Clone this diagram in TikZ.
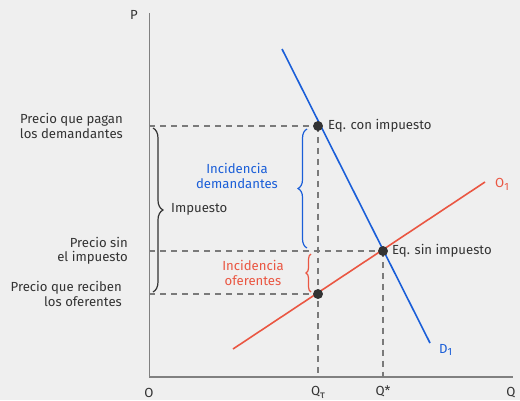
\documentclass[tikz,border=0pt]{standalone}
\usepackage{fontspec}
\setmainfont{Fira Sans}
\usetikzlibrary{decorations.pathreplacing}
\definecolor{bgc}{HTML}{EFEFEF}
\definecolor{txt}{HTML}{333333}
\definecolor{axc}{HTML}{808080}
\definecolor{dashc}{HTML}{7A7A7A}
\definecolor{bluec}{HTML}{1A5ED8}
\definecolor{redc}{HTML}{EA5642}
\newcommand{\lowsub}[1]{\raisebox{-0.4ex}{\fontsize{10.5}{12}\selectfont #1}}
\tikzset{
  axis/.style={draw=axc, line width=1.3pt},
  guide/.style={draw=dashc, line width=1.1pt, dash pattern=on 6pt off 5pt},
  curveD/.style={draw=bluec, line width=1.6pt},
  curveO/.style={draw=redc, line width=1.6pt},
  eqdot/.style={circle, fill=txt, inner sep=0pt, minimum size=10pt},
  lbl/.style={text=txt, font=\fontsize{13.2}{14.5}\selectfont, inner sep=0pt},
  brc/.style={decorate, decoration={brace, amplitude=#1}, line width=1.2pt},
}
\begin{document}
\begin{tikzpicture}[x=1bp, y=-1bp]
\useasboundingbox[fill=bgc] (0,0) rectangle (520,400);
% axes
\coordinate (O) at (149.5,377);
\coordinate (Ptop) at (149.5,13);
\coordinate (Qend) at (513,377);
\draw[axis] (Ptop) -- (O) -- (Qend);
\node[lbl] (P) at (134,15) {P};
\node[lbl] (Olab) at (149,393) {O};
\node[lbl] (Q) at (511,393) {Q};
% equilibrium points
\coordinate (A) at (318,126);
\coordinate (B) at (383,251);
\coordinate (C) at (318,294);
\coordinate (Ay) at (149.5,126);
\coordinate (By) at (149.5,251);
\coordinate (Cy) at (149.5,294);
\coordinate (Ax) at (318,377);
\coordinate (Bx) at (383,377);
% guides
\draw[guide] (Ay) -- (A);
\draw[guide] (By) -- (B);
\draw[guide] (Cy) -- (C);
\draw[guide] (A) -- (Ax);
\draw[guide] (B) -- (Bx);
% curves
\coordinate (D0) at (282,49);
\coordinate (D1) at (430,343);
\coordinate (S0) at (233,349);
\coordinate (S1) at (485,182);
\draw[curveD] (D0) -- (D1);
\draw[curveO] (S0) -- (S1);
\node[lbl, text=redc, anchor=west] (Olbl) at (495,184) {O\lowsub{1}};
\node[lbl, text=bluec, anchor=west] (Dlbl) at (439,350) {D\lowsub{1}};
% dots
\node[eqdot] (eA) at (A) {};
\node[eqdot] (eB) at (B) {};
\node[eqdot] (eC) at (C) {};
\node[lbl, anchor=west] (tA) at (328,126) {Eq. con impuesto};
\node[lbl, anchor=west] (tB) at (392,251) {Eq. sin impuesto};
% axis labels
\node[lbl, anchor=north] (qt) at (318,386) {Q\lowsub{τ}};
\node[lbl, anchor=north] (qs) at (383,386) {Q*};
\node[lbl, align=right, anchor=east] (l1) at (123,126) {Precio que pagan\\los demandantes};
\node[lbl, align=right, anchor=east] (l2) at (128,251) {Precio sin\\el impuesto};
\node[lbl, align=right, anchor=east] (l3) at (122,294) {Precio que reciben\\los oferentes};
% braces
\coordinate (b1t) at (153,128);
\coordinate (b1b) at (153,292);
\draw[brc=10pt, draw=txt] (b1t) -- (b1b);
\node[lbl, anchor=west] (imp) at (171,209) {Impuesto};
\coordinate (b2t) at (307,129);
\coordinate (b2b) at (307,248);
\draw[brc=9pt, draw=bluec] (b2b) -- (b2t);
\node[lbl, text=bluec, align=center] (idem) at (237,176) {Incidencia\\demandantes};
\coordinate (b3t) at (311,254);
\coordinate (b3b) at (311,292);
\draw[brc=5pt, draw=redc] (b3b) -- (b3t);
\node[lbl, text=redc, align=center] (iof) at (253,273) {Incidencia\\oferentes};
\end{tikzpicture}
\end{document}
